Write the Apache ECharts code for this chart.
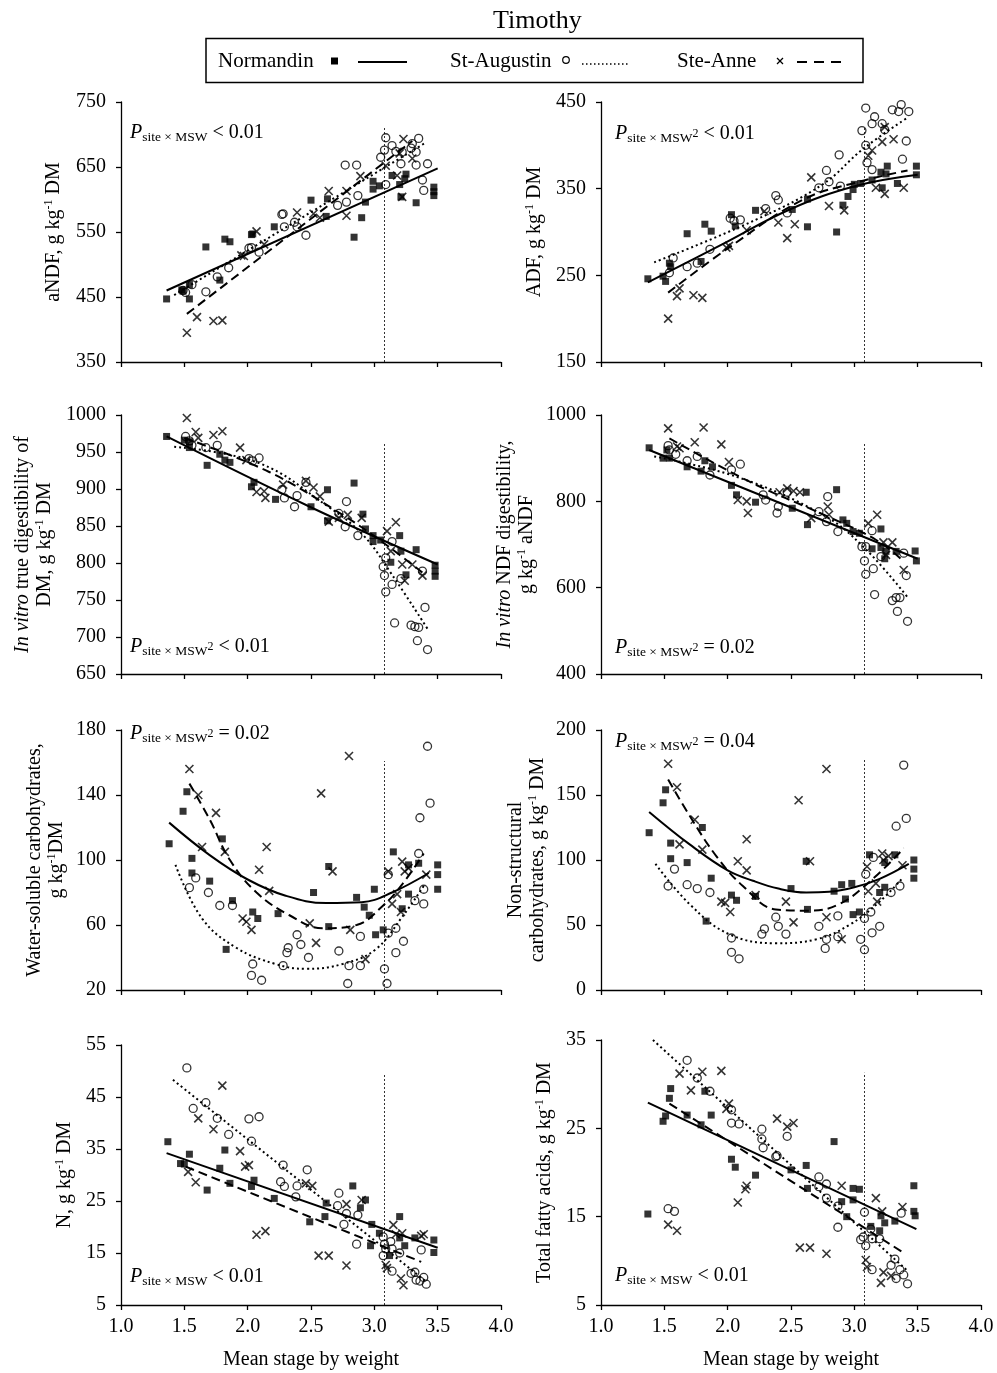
<!DOCTYPE html>
<html>
<head>
<meta charset="utf-8">
<title>Timothy</title>
<script src="https://cdn.jsdelivr.net/npm/echarts@6/dist/echarts.min.js"></script>
<style>
  html, body { margin: 0; padding: 0; background: #fff; }
  #chart { width: 997px; height: 1373px; }
</style>
</head>
<body>
<div id="chart"></div>
<script>
// values: [mean stage by weight, value]
// N = Normandin, A = St-Augustin, S = Ste-Anne, Fit = fitted curve

// aNDF
var andfN = [[1.36,447],[1.48,461],[1.49,459],[1.54,469],[1.54,447],[1.67,527],[1.78,476],[1.82,539],[1.86,535],[2.03,546],[2.04,547],[2.21,558],[2.50,599],[2.62,574],[2.63,601],[2.84,542],[2.90,572],[2.93,596],[2.99,628],[2.99,616],[3.04,621],[3.14,637],[3.20,623],[3.21,604],[3.25,639],[3.24,632],[3.33,595],[3.47,619],[3.47,612],[3.47,606]];
var andfA = [[1.49,460],[1.51,457],[1.56,469],[1.67,458],[1.76,481],[1.85,495],[2.01,525],[2.03,526],[2.09,519],[2.27,577],[2.28,578],[2.29,558],[2.37,565],[2.39,558],[2.46,545],[2.71,591],[2.78,596],[2.77,653],[2.86,653],[2.87,606],[3.05,665],[3.08,676],[3.09,695],[3.09,623],[3.14,683],[3.17,674],[3.21,655],[3.22,673],[3.29,679],[3.30,686],[3.35,694],[3.33,673],[3.33,653],[3.42,655],[3.38,630],[3.39,614]];
var andfS = [[1.52,395],[1.60,419],[1.73,413],[1.80,414],[1.95,514],[1.97,513],[2.07,551],[2.13,531],[2.39,580],[2.52,578],[2.57,572],[2.64,613],[2.78,613],[2.78,575],[2.89,636],[3.09,652],[3.18,637],[3.20,671],[3.23,693],[3.30,663],[3.22,604]];
var andfFitN = [[1.36,460],[3.5,648]];
var andfFitA = [[1.42,453],[3.41,688]];
var andfFitS = [[1.52,424],[3.3,690]];

// ADF
var adfN = [[1.37,246],[1.49,249],[1.51,243],[1.54,264],[1.55,260],[1.68,298],[1.79,266],[1.82,309],[1.87,301],[2.03,320],[2.06,307],[2.22,325],[2.51,326],[2.63,338],[2.63,306],[2.86,300],[2.91,331],[2.95,341],[2.99,349],[3.00,355],[3.05,356],[3.14,360],[3.21,369],[3.22,351],[3.25,367],[3.26,376],[3.34,356],[3.49,366],[3.49,376]];
var adfA = [[1.54,253],[1.57,270],[1.68,260],[1.76,264],[1.86,280],[2.02,316],[2.05,313],[2.10,314],[2.30,327],[2.38,342],[2.40,337],[2.47,322],[2.72,351],[2.78,371],[2.80,358],[2.88,389],[2.89,353],[3.06,417],[3.09,443],[3.09,400],[3.10,380],[3.14,372],[3.16,433],[3.14,425],[3.22,425],[3.24,418],[3.30,441],[3.37,447],[3.35,439],[3.43,439],[3.41,405],[3.38,384]];
var adfS = [[1.53,200],[1.60,226],[1.62,235],[1.73,227],[1.80,224],[1.99,282],[2.01,284],[2.15,302],[2.29,324],[2.40,311],[2.47,293],[2.53,309],[2.66,363],[2.80,330],[2.92,325],[3.11,388],[3.14,394],[3.17,351],[3.24,344],[3.22,404],[3.24,421],[3.31,407],[3.39,351]];
var adfFitN = [[1.37,242],[1.96,286],[2.49,326],[3.01,353],[3.5,366]];
var adfFitA = [[1.42,265],[2.22,314],[2.75,355],[3.07,396],[3.41,431]];
var adfFitS = [[1.53,230],[2.01,282],[2.59,337],[3.01,357],[3.42,371]];

// In vitro true digestibility of DM
var ivtN = [[1.36,971],[1.50,966],[1.54,964],[1.54,956],[1.68,932],[1.78,947],[1.82,939],[1.86,936],[2.03,903],[2.05,909],[2.22,886],[2.50,876],[2.63,899],[2.63,857],[2.84,908],[2.91,866],[2.93,846],[2.99,837],[2.99,829],[3.05,831],[3.13,801],[3.20,837],[3.21,816],[3.25,784],[3.33,818],[3.48,797],[3.48,789],[3.48,782]];
var ivtA = [[1.51,971],[1.54,965],[1.56,959],[1.67,956],[1.76,959],[2.01,941],[2.04,938],[2.09,942],[2.27,899],[2.29,888],[2.37,876],[2.39,891],[2.46,909],[2.72,867],[2.78,883],[2.77,849],[2.87,837],[3.07,795],[3.08,783],[3.09,761],[3.09,807],[3.14,829],[3.14,771],[3.16,719],[3.21,779],[3.29,716],[3.32,714],[3.35,713],[3.34,695],[3.38,789],[3.40,740],[3.42,683]];
var ivtS = [[1.52,996],[1.59,977],[1.61,969],[1.73,973],[1.80,978],[1.94,956],[1.99,939],[2.07,896],[2.13,897],[2.14,888],[2.28,906],[2.46,911],[2.52,902],[2.57,890],[2.64,856],[2.72,861],[2.79,865],[2.90,861],[3.10,843],[3.17,855],[3.13,816],[3.22,798],[3.24,776],[3.30,798],[3.38,783]];
var ivtFitN = [[1.36,971],[2.49,876],[3.5,798]];
var ivtFitA = [[1.42,957],[2.09,935],[2.62,878],[2.91,838],[3.14,784],[3.42,711]];
var ivtFitS = [[1.50,969],[2.17,923],[2.75,865],[3.09,825],[3.41,783]];

// In vitro NDF digestibility
var ivnN = [[1.38,924],[1.49,900],[1.52,919],[1.54,900],[1.68,880],[1.79,870],[1.82,894],[1.88,880],[2.03,837],[2.07,815],[2.22,798],[2.51,784],[2.62,821],[2.63,746],[2.86,827],[2.91,757],[2.94,749],[2.99,730],[3.04,726],[3.14,690],[3.21,736],[3.21,693],[3.24,667],[3.25,684],[3.33,684],[3.48,685],[3.49,662]];
var ivnA = [[1.53,929],[1.54,919],[1.59,909],[1.68,894],[1.76,904],[1.86,861],[2.03,873],[2.10,886],[2.28,815],[2.30,803],[2.39,773],[2.40,788],[2.47,821],[2.72,776],[2.79,811],[2.78,753],[2.87,730],[3.06,695],[3.08,662],[3.09,631],[3.09,695],[3.14,732],[3.15,644],[3.16,584],[3.21,672],[3.30,570],[3.33,577],[3.36,577],[3.34,545],[3.39,680],[3.41,628],[3.42,522]];
var ivnS = [[1.53,969],[1.60,927],[1.62,923],[1.74,937],[1.81,971],[1.95,932],[2.01,891],[2.08,803],[2.15,800],[2.16,773],[2.41,821],[2.47,830],[2.52,824],[2.57,821],[2.66,761],[2.79,788],[2.80,769],[3.11,749],[3.18,769],[3.23,705],[3.30,705],[3.25,676],[3.39,641]];
var ivnFitN = [[1.38,919],[3.5,667]];
var ivnFitA = [[1.42,904],[2.07,857],[2.75,769],[3.07,695],[3.42,578]];
var ivnFitS = [[1.54,946],[2.17,846],[2.75,770],[3.17,711],[3.39,661]];

// Water-soluble carbohydrates
var wscN = [[1.38,110],[1.49,130],[1.52,142],[1.56,101],[1.56,92],[1.70,87],[1.80,113],[1.83,45],[1.88,75],[2.04,68],[2.08,64],[2.24,67],[2.52,80],[2.64,96],[2.64,59],[2.86,77],[2.92,71],[2.96,66],[3.00,82],[3.01,54],[3.07,57],[3.15,105],[3.22,70],[3.27,79],[3.27,97],[3.35,98],[3.50,97],[3.50,91],[3.50,82]];
var wscA = [[1.54,83],[1.59,89],[1.69,80],[1.78,72],[1.88,72],[2.03,29],[2.04,36],[2.11,26],[2.28,35],[2.31,43],[2.32,46],[2.39,54],[2.42,48],[2.48,40],[2.72,44],[2.79,24],[2.80,35],[2.89,35],[2.89,53],[3.08,33],[3.10,24],[3.11,91],[3.11,55],[3.17,58],[3.17,43],[3.23,50],[3.32,75],[3.35,104],[3.39,73],[3.39,82],[3.36,126],[3.44,135],[3.42,170]];
var wscS = [[1.54,156],[1.61,140],[1.64,108],[1.75,129],[1.82,105],[1.96,64],[1.99,62],[2.03,57],[2.09,94],[2.15,108],[2.17,81],[2.49,61],[2.54,49],[2.58,141],[2.67,93],[2.80,164],[2.81,57],[2.93,39],[3.11,93],[3.14,73],[3.18,79],[3.21,68],[3.22,99],[3.24,93],[3.27,95],[3.41,91]];
var wscFitN = [[1.38,123],[1.7,103],[2.0,88],[2.3,78],[2.62,73.5],[2.9,74],[3.14,80],[3.43,92]];
var wscFitA = [[1.43,97],[1.64,64],[1.91,46],[2.22,36],[2.46,33],[2.75,36],[3.01,45],[3.22,65],[3.39,84]];
var wscFitS = [[1.54,147],[1.70,125],[1.86,100],[2.07,80],[2.33,66],[2.59,58],[2.86,60],[3.07,72],[3.22,85],[3.39,104]];

// Non-structural carbohydrates
var nscN = [[1.38,121],[1.49,144],[1.51,154],[1.55,113],[1.55,101],[1.68,98],[1.80,125],[1.83,53],[1.87,86],[2.03,73],[2.07,69],[2.22,72],[2.50,78],[2.62,99],[2.63,62],[2.84,76],[2.90,81],[2.93,70],[2.98,82],[2.99,58],[3.04,60],[3.12,104],[3.20,75],[3.24,79],[3.24,98],[3.32,104],[3.47,100],[3.47,93],[3.47,86]];
var nscA = [[1.53,80],[1.58,93],[1.68,81],[1.76,78],[1.86,75],[2.03,29],[2.03,40],[2.09,24],[2.27,43],[2.29,47],[2.38,56],[2.40,49],[2.46,43],[2.72,49],[2.77,32],[2.78,39],[2.87,57],[2.87,41],[3.05,39],[3.08,31],[3.08,55],[3.09,89],[3.13,60],[3.14,44],[3.15,102],[3.20,49],[3.29,75],[3.33,126],[3.36,80],[3.39,173],[3.41,132]];
var nscS = [[1.53,174],[1.60,156],[1.62,112],[1.74,131],[1.80,108],[1.95,68],[1.98,67],[2.02,60],[2.08,99],[2.15,116],[2.15,92],[2.22,73],[2.46,68],[2.52,52],[2.56,146],[2.65,99],[2.78,170],[2.78,56],[2.90,39],[3.10,95],[3.11,76],[3.17,82],[3.18,68],[3.22,105],[3.23,100],[3.27,103],[3.38,96]];
var nscFitN = [[1.38,137],[1.7,112],[2.0,92],[2.2,84],[2.4,78],[2.62,75],[2.8,75.5],[3.0,79],[3.2,85.5],[3.43,97]];
var nscFitA = [[1.43,97],[1.70,66],[2.01,43],[2.38,36],[2.70,39],[2.96,50],[3.20,68],[3.38,86]];
var nscFitS = [[1.53,162],[1.70,134],[1.91,103],[2.12,80],[2.38,62],[2.64,61],[2.88,66],[3.14,85],[3.39,109]];

// N
var nN = [[1.37,36.4],[1.47,32.2],[1.50,32.1],[1.54,34.0],[1.68,27.1],[1.78,31.3],[1.82,34.8],[1.86,28.4],[2.03,27.8],[2.05,29.0],[2.21,25.5],[2.49,21.0],[2.61,22.0],[2.62,24.6],[2.83,27.9],[2.89,23.7],[2.93,25.2],[2.97,16.4],[2.98,20.5],[3.04,18.8],[3.12,14.5],[3.20,22.0],[3.20,17.9],[3.24,16.4],[3.32,17.9],[3.47,17.5],[3.47,15.1]];
var nA = [[1.52,50.6],[1.57,42.8],[1.67,43.9],[1.76,40.9],[1.85,37.8],[2.01,40.8],[2.03,36.5],[2.09,41.2],[2.26,28.7],[2.28,31.9],[2.29,27.8],[2.38,25.8],[2.39,27.9],[2.47,31.0],[2.71,24.1],[2.72,26.5],[2.76,20.5],[2.78,22.6],[2.86,16.7],[2.87,22.3],[3.07,14.5],[3.07,18.1],[3.08,16.7],[3.09,15.8],[3.13,17.2],[3.14,15.8],[3.14,11.5],[3.20,15.0],[3.29,11.1],[3.32,11.3],[3.33,9.8],[3.36,9.6],[3.37,15.6],[3.39,10.3],[3.41,9.0]];
var nS = [[1.53,30.6],[1.59,28.6],[1.61,40.9],[1.73,38.8],[1.80,47.2],[1.94,34.6],[1.98,31.6],[2.01,31.9],[2.07,18.5],[2.14,19.2],[2.46,28.4],[2.51,27.9],[2.56,14.5],[2.64,14.5],[2.78,12.6],[2.78,24.4],[2.90,25.2],[3.09,12.7],[3.10,12.1],[3.15,20.4],[3.17,18.6],[3.22,18.8],[3.21,10.1],[3.23,8.8],[3.37,18.3],[3.39,18.6]];
var nFitN = [[1.36,34.2],[3.5,16.0]];
var nFitA = [[1.41,48.3],[3.41,9.5]];
var nFitS = [[1.51,31.6],[3.37,13.3]];

// Total fatty acids
var tfaN = [[1.37,15.3],[1.49,25.8],[1.51,26.4],[1.54,28.4],[1.55,29.5],[1.68,26.5],[1.79,25.4],[1.82,29.2],[1.87,26.5],[2.03,21.5],[2.06,20.6],[2.22,19.7],[2.50,20.3],[2.62,20.8],[2.63,18.2],[2.84,23.5],[2.90,16.7],[2.94,15.0],[2.99,16.9],[2.99,18.2],[3.04,18.1],[3.13,13.9],[3.20,13.4],[3.21,15.1],[3.24,14.3],[3.32,14.5],[3.47,18.5],[3.47,15.6],[3.48,15.1]];
var tfaA = [[1.53,15.9],[1.58,15.6],[1.68,32.7],[1.76,30.7],[1.86,29.2],[2.03,27.1],[2.03,25.6],[2.09,25.5],[2.27,24.9],[2.27,23.8],[2.28,22.8],[2.38,21.8],[2.39,21.9],[2.47,24.1],[2.72,18.4],[2.72,19.5],[2.78,17.1],[2.78,18.7],[2.87,16.2],[2.87,13.8],[3.05,12.4],[3.07,12.7],[3.08,15.5],[3.09,11.7],[3.13,13.6],[3.14,9.0],[3.14,12.5],[3.20,12.5],[3.29,9.5],[3.32,10.2],[3.33,8.0],[3.36,9.0],[3.37,15.4],[3.39,8.4],[3.42,7.4]];
var tfaS = [[1.53,14.1],[1.60,13.4],[1.62,31.2],[1.71,29.3],[1.80,31.4],[1.95,31.5],[1.99,27.2],[2.01,27.8],[2.08,16.6],[2.14,18.1],[2.15,18.5],[2.39,26.1],[2.47,25.2],[2.52,25.6],[2.57,11.5],[2.65,11.5],[2.78,10.8],[2.90,18.5],[3.09,10.1],[3.10,9.3],[3.17,17.1],[3.22,15.6],[3.21,7.5],[3.23,8.7],[3.29,8.3],[3.38,16.1]];
var tfaFitN = [[1.37,27.9],[3.49,13.6]];
var tfaFitA = [[1.41,35.0],[3.41,9.0]];
var tfaFitS = [[1.54,27.8],[3.39,10.9]];

// x position of the vertical reference line and where it stops at the top of each panel
var refX = 3.08;
var refTop = [710, 420, 962, 935, 161, 177, 49.6, 31.3];

// y axis ranges [min, max, step]
var yRanges = [[350,750,100],[150,450,100],[650,1000,50],[400,1000,200],[20,180,40],[0,200,50],[5,55,10],[5,35,10]];
var xTicks = [1, 4, 0.5];

var siteNames = ['Normandin', 'St-Augustin', 'Ste-Anne'];
var pValues = ['< 0.01', '< 0.01', '< 0.01', '= 0.02', '= 0.02', '= 0.04', '< 0.01', '< 0.01'];
var pSquared = [false, true, true, true, true, true, false, false];

var FONT = "'Liberation Serif', 'Times New Roman', serif";

var panels = [
  { sites: [andfN, andfA, andfS], fits: [andfFitN, andfFitA, andfFitS], name: 'aNDF, g kg{sup|-1} DM', gap: 56 },
  { sites: [adfN, adfA, adfS], fits: [adfFitN, adfFitA, adfFitS], name: 'ADF, g kg{sup|-1} DM', gap: 55 },
  { sites: [ivtN, ivtA, ivtS], fits: [ivtFitN, ivtFitA, ivtFitS], name: '{it|In vitro} true digestibility of\nDM, g kg{sup|-1} DM', gap: 65 },
  { sites: [ivnN, ivnA, ivnS], fits: [ivnFitN, ivnFitA, ivnFitS], name: '{it|In vitro} NDF digestibility,\ng kg{sup|-1} aNDF', gap: 63 },
  { sites: [wscN, wscA, wscS], fits: [wscFitN, wscFitA, wscFitS], name: 'Water-soluble carbohydrates,\ng kg{sup|-1}DM', gap: 53 },
  { sites: [nscN, nscA, nscS], fits: [nscFitN, nscFitA, nscFitS], name: 'Non-structural\ncarbohydrates, g kg{sup|-1} DM', gap: 52 },
  { sites: [nN, nA, nS], fits: [nFitN, nFitA, nFitS], name: 'N, g kg{sup|-1} DM', gap: 45 },
  { sites: [tfaN, tfaA, tfaS], fits: [tfaFitN, tfaFitA, tfaFitS], name: 'Total fatty acids, g kg{sup|-1} DM', gap: 45 }
];

// panel boxes in pixels
var boxes = [
  { left: 121, top: 102, height: 260 }, { left: 601, top: 102, height: 260 },
  { left: 121, top: 415, height: 259 }, { left: 601, top: 415, height: 259 },
  { left: 121, top: 730, height: 260 }, { left: 601, top: 730, height: 260 },
  { left: 121, top: 1045, height: 260 }, { left: 601, top: 1040, height: 265 }
];
// where the P annotation sits [x, y]
var pPos = [[130,133],[615,134],[130,647],[615,648],[130,734],[615,742],[130,1277],[615,1276]];

var symbols = [
  { symbol: 'rect', size: 7, style: { color: '#000' } },
  { symbol: 'circle', size: 8, style: { color: 'rgba(0,0,0,0)', borderColor: '#000', borderWidth: 1.3 } },
  { symbol: 'path://M0,0L10,10M10,0L0,10', size: 8, style: { color: 'rgba(0,0,0,0)', borderColor: '#000', borderWidth: 1.6 } }
];
var dashes = ['solid', [2, 3], [9, 5]];

var grid = [], xAxis = [], yAxis = [], series = [], graphic = [];

panels.forEach(function (p, i) {
  var b = boxes[i];
  var bottomRow = i >= 6;
  grid.push({ left: b.left, top: b.top, width: 380, height: b.height, outerBoundsMode: 'none' });
  xAxis.push({
    gridIndex: i, type: 'value', min: xTicks[0], max: xTicks[1], interval: xTicks[2],
    axisLine: { show: true, onZero: false, lineStyle: { color: '#000', width: 1.3 } },
    axisTick: { show: true, inside: false, length: 5, lineStyle: { color: '#000', width: 1.3 } },
    axisLabel: { show: bottomRow, margin: 12, color: '#000', fontSize: 20, fontFamily: FONT,
      formatter: function (v) { return v.toFixed(1); } },
    splitLine: { show: false },
    name: bottomRow ? 'Mean stage by weight' : '',
    nameLocation: 'middle', nameGap: 45,
    nameTextStyle: { color: '#000', fontSize: 20, fontFamily: FONT }
  });
  yAxis.push({
    gridIndex: i, type: 'value', min: yRanges[i][0], max: yRanges[i][1], interval: yRanges[i][2],
    axisLine: { show: true, onZero: false, lineStyle: { color: '#000', width: 1.3 } },
    axisTick: { show: true, inside: false, length: 5, lineStyle: { color: '#000', width: 1.3 } },
    axisLabel: { margin: 15, color: '#000', fontSize: 20, fontFamily: FONT,
      formatter: function (v) { return String(v); } },
    splitLine: { show: false },
    name: p.name, nameLocation: 'middle', nameGap: p.gap,
    nameTextStyle: {
      color: '#000', fontSize: 20, fontFamily: FONT, lineHeight: 22,
      rich: {
        sup: { fontSize: 12, fontFamily: FONT, color: '#000', verticalAlign: 'top', lineHeight: 14 },
        it: { fontSize: 20, fontFamily: FONT, color: '#000', fontStyle: 'italic', lineHeight: 22 }
      }
    }
  });

  p.sites.forEach(function (pts, k) {
    series.push({
      type: 'scatter', name: siteNames[k], xAxisIndex: i, yAxisIndex: i, data: pts,
      symbol: symbols[k].symbol, symbolSize: symbols[k].size, itemStyle: symbols[k].style,
      emphasis: { disabled: true }, silent: true, z: 3
    });
  });
  p.fits.forEach(function (pts, k) {
    series.push({
      type: 'line', xAxisIndex: i, yAxisIndex: i, data: pts, showSymbol: false,
      smooth: pts.length > 2 ? 0.4 : false,
      lineStyle: { color: '#000', width: 2, type: dashes[k] },
      emphasis: { disabled: true }, silent: true, z: 4
    });
  });
  // vertical reference line
  series.push({
    type: 'line', xAxisIndex: i, yAxisIndex: i, showSymbol: false,
    data: [[refX, yRanges[i][0]], [refX, refTop[i]]],
    lineStyle: { color: '#000', width: 0.8, type: [2, 2] },
    emphasis: { disabled: true }, silent: true, z: 2
  });

  // P value annotation
  graphic.push({
    type: 'text', x: pPos[i][0], y: pPos[i][1], silent: true,
    style: {
      text: '{p|P}{s|site × MSW}' + (pSquared[i] ? '{q|2}' : '') + '{t| ' + pValues[i] + '}',
      verticalAlign: 'middle',
      rich: {
        p: { fontFamily: FONT, fontSize: 20, fontStyle: 'italic', lineHeight: 22, fill: '#000' },
        s: { fontFamily: FONT, fontSize: 13.5, lineHeight: 10, verticalAlign: 'bottom', fill: '#000' },
        q: { fontFamily: FONT, fontSize: 12, lineHeight: 12, verticalAlign: 'middle', fill: '#000' },
        t: { fontFamily: FONT, fontSize: 20, lineHeight: 22, fill: '#000' }
      }
    }
  });
});

// legend box: text first, then marker and line style
graphic.push(
  { type: 'rect', shape: { x: 206, y: 38.5, width: 657, height: 44 }, style: { fill: 'none', stroke: '#000', lineWidth: 1.5 }, silent: true },
  { type: 'text', x: 218, y: 61, style: { text: siteNames[0], fontFamily: FONT, fontSize: 21, fill: '#000', verticalAlign: 'middle' }, silent: true },
  { type: 'rect', shape: { x: 331, y: 57.5, width: 7, height: 7 }, style: { fill: '#000' }, silent: true },
  { type: 'line', shape: { x1: 358, y1: 62, x2: 407, y2: 62 }, style: { stroke: '#000', lineWidth: 2 }, silent: true },
  { type: 'text', x: 450, y: 61, style: { text: siteNames[1], fontFamily: FONT, fontSize: 21, fill: '#000', verticalAlign: 'middle' }, silent: true },
  { type: 'circle', shape: { cx: 566, cy: 60, r: 3.3 }, style: { fill: 'none', stroke: '#000', lineWidth: 1.2 }, silent: true },
  { type: 'line', shape: { x1: 582, y1: 64, x2: 630, y2: 64 }, style: { stroke: '#000', lineWidth: 1.5, lineDash: [1.5, 2.5] }, silent: true },
  { type: 'text', x: 677, y: 61, style: { text: siteNames[2], fontFamily: FONT, fontSize: 21, fill: '#000', verticalAlign: 'middle' }, silent: true },
  { type: 'line', shape: { x1: 777, y1: 58, x2: 783, y2: 64 }, style: { stroke: '#000', lineWidth: 1.3 }, silent: true },
  { type: 'line', shape: { x1: 783, y1: 58, x2: 777, y2: 64 }, style: { stroke: '#000', lineWidth: 1.3 }, silent: true },
  { type: 'line', shape: { x1: 797, y1: 62, x2: 843, y2: 62 }, style: { stroke: '#000', lineWidth: 2.2, lineDash: [10, 7] }, silent: true }
);

var chart = echarts.init(document.getElementById('chart'), null, { renderer: 'canvas' });
chart.setOption({
  backgroundColor: '#fff',
  animation: false,
  title: {
    text: 'Timothy', left: 488, top: 3,
    textStyle: { fontFamily: FONT, fontSize: 26, fontWeight: 'normal', color: '#000' }
  },
  tooltip: { show: false },
  grid: grid,
  xAxis: xAxis,
  yAxis: yAxis,
  series: series,
  graphic: graphic
});
</script>
</body>
</html>
